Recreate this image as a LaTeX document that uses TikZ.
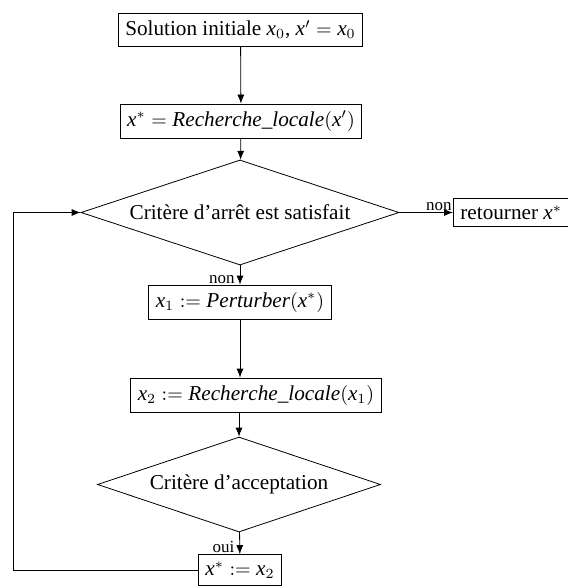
\documentclass[tikz,border=0pt]{standalone}
\usepackage{fontspec}
\setmainfont{Liberation Serif}[Scale=1.06]
\DeclareSymbolFont{letters}{TU}{\rmdefault}{m}{it}
\usetikzlibrary{arrows.meta,shapes.geometric}

\begin{document}
\begin{tikzpicture}[x=0.5pt, y=-0.5pt, >={Latex[length=4.5pt,width=3.5pt]},
  box/.style={draw, inner sep=3.5pt},
  test/.style={draw, diamond, inner sep=0pt, aspect=3},
  lbl/.style={font=\footnotesize, inner sep=0.5pt}]
  \useasboundingbox (0,0) rectangle (567,587);
  \node[box] (init) at (240.5,30) {Solution initiale $x_0$, $x' = x_0$};
  \node[box] (ls1) at (241,121) {$x^* = Recherche\_locale(x')$};
  \node[test, minimum width=159pt, minimum height=52.5pt] (crit) at (240,212.5) {Critère d’arrêt est satisfait};
  \node[box, anchor=west] (ret) at (453,212.5) {retourner $x^*$};
  \node[box] (pert) at (240,302) {$x_1 := Perturber(x^*)$};
  \node[box] (ls2) at (256,395) {$x_2 := Recherche\_locale(x_1)$};
  \node[test, minimum width=141.5pt, minimum height=47.5pt] (acc) at (239,484.5) {Critère d’acceptation};
  \node[box] (upd) at (240,570) {$x^* := x_2$};
  \coordinate (back) at (13,570);
  \draw[->] (init) -- (ls1);
  \draw[->] (ls1) -- (crit);
  \draw[->] (crit) -- node[lbl, above left, pos=1] {non} (ret);
  \draw[->] (crit) -- node[lbl, above left, pos=1, xshift=-2pt] {non} (pert);
  \draw[->] (pert) -- (pert |- ls2.north);
  \draw[->] (ls2.south -| acc) -- (acc);
  \draw[->] (acc) -- node[lbl, above left, pos=1, xshift=-2pt] {oui} (upd);
  \draw[->] (upd) -- (back) |- (crit.west);
\end{tikzpicture}
\end{document}
